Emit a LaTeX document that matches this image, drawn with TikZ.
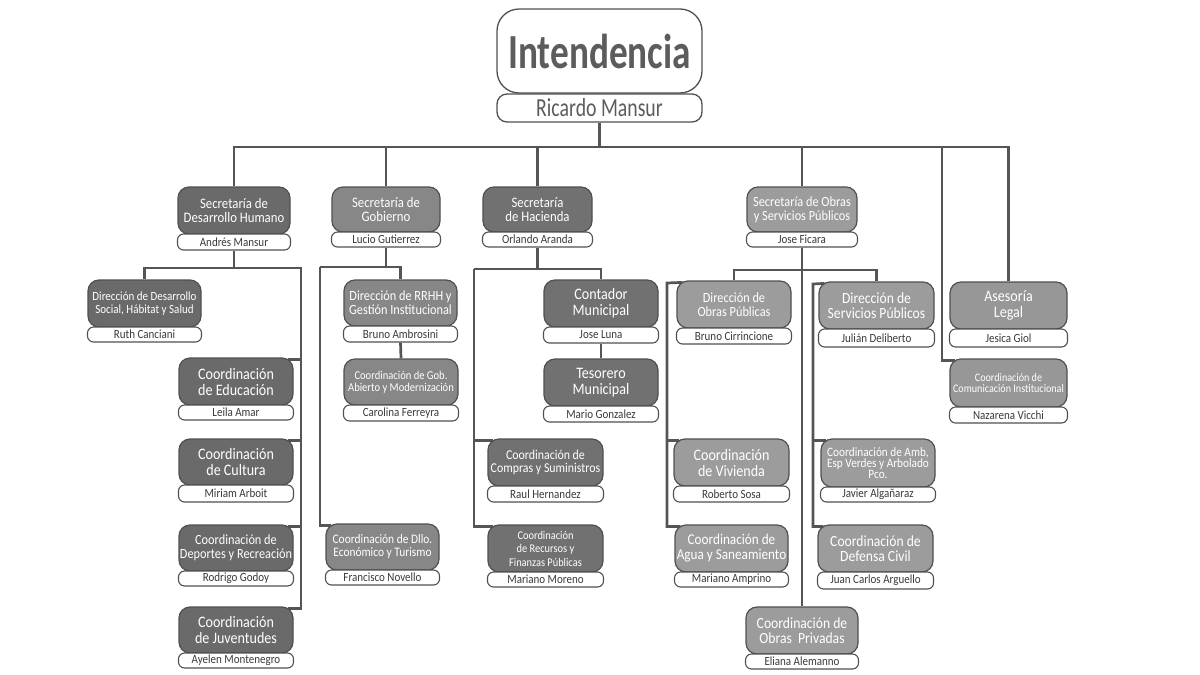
\documentclass[tikz,border=0pt]{standalone}
\usepackage{fontspec}
\setmainfont{Carlito}[FakeStretch=0.88]
\newfontfamily\titlefont{Carlito}[FakeStretch=0.76]
\usetikzlibrary{calc,backgrounds}
\definecolor{cdh}{HTML}{6A6A6A}
\definecolor{cgob}{HTML}{878787}
\definecolor{chac}{HTML}{717171}
\definecolor{cob}{HTML}{9C9C9C}
\definecolor{cas}{HTML}{979797}
\definecolor{cborder}{HTML}{505050}
\definecolor{cline}{HTML}{555555}
\definecolor{ctext}{HTML}{3A3A3A}
\definecolor{ctitle}{HTML}{5C5C5C}
\tikzset{
  gbox/.style={draw=cborder, line width=1.2pt, rounded corners=11pt, inner sep=0pt, align=center, text=white},
  pill/.style={draw=cborder, line width=1.1pt, fill=white, rounded corners=6pt, inner sep=0pt, text=ctext, font=\fontsize{12.5}{12.5}\selectfont},
  conn/.style={draw=cline, line width=2.7pt},
  fs/.style={font=\fontsize{#1}{#1}\selectfont},
  fsl/.style 2 args={font=\fontsize{#1}{#2}\selectfont},
}
% #1 id, #2 x1, #3 x2, #4 y1, #5 y2, #6 name bottom, #7 style, #8 person, #9 text
\newcommand\ob[9]{%
  \node[gbox,#7,minimum width={(#3-#2)*1pt},minimum height={(#5-#4)*1pt}] (#1) at ({(#2+#3)/2},{(#4+#5)/2}) {#9};
  \node[pill,minimum width={(#3-#2+1)*1pt},minimum height={(#6-#5)*1pt}] (#1n) at ({(#2+#3)/2},{(#5+#6)/2}) {#8};
}
\begin{document}
\begin{tikzpicture}[x=1pt,y=-1pt]
\useasboundingbox (0,0) rectangle (1200,675);
% title
\node[draw=cborder, line width=1.3pt, rounded corners=22pt, fill=white, inner sep=0pt,
      minimum width=205pt, minimum height=84pt, text=ctitle,
      font=\titlefont\bfseries\fontsize{49}{49}\selectfont] (intend) at (599.5,51) {Intendencia};
\node[draw=cborder, line width=1.3pt, rounded corners=10pt, fill=white, inner sep=0pt,
      minimum width=205pt, minimum height=28pt, text=ctitle,
      font=\titlefont\fontsize{26}{26}\selectfont] (ricardo) at (599.5,108) {Ricardo Mansur};

% Desarrollo Humano
\ob{secDH}{178}{290}{187}{234}{250}{fill=cdh,fs=14.5}{Andrés Mansur}{Secretaría de\\Desarrollo Humano}
\ob{dirDS}{88}{201}{280}{327}{342}{fill=cdh,fs=12.5}{Ruth Canciani}{Dirección de Desarrollo\\Social, Hábitat y Salud}
\ob{educ}{179}{293}{358}{405}{420}{fill=cdh,fs=16}{Leila Amar}{Coordinación\\de Educación}
\ob{cult}{179}{293}{439}{485}{502}{fill=cdh,fs=16}{Miriam Arboit}{Coordinación\\de Cultura}
\ob{dep}{179}{293}{525}{571}{586}{fill=cdh,fs=14}{Rodrigo Godoy}{Coordinación de\\Deportes y Recreación}
\ob{juv}{179}{293}{607}{653}{668}{fill=cdh,fs=16}{Ayelen Montenegro}{Coordinación\\de Juventudes}

% Gobierno
\ob{secGob}{332}{440}{187}{232}{247}{fill=cgob,fs=14.5}{Lucio Gutierrez}{Secretaría de\\Gobierno}
\ob{rrhh}{344}{457}{280}{326}{342}{fill=cgob,fs=14}{Bruno Ambrosini}{Dirección de RRHH y\\Gestión Institucional}
\ob{gobab}{344}{458}{359}{405}{421}{fill=cgob,fs=12}{Carolina Ferreyra}{Coordinación de Gob.\\Abierto y Modernización}
\ob{dllo}{326}{439}{524}{570}{585}{fill=cgob,fs=13}{Francisco Novello}{Coordinación de Dllo.\\Económico y Turismo}

% Hacienda
\ob{secHac}{483}{592}{187}{232}{247}{fill=chac,fs=14.5}{Orlando Aranda}{Secretaría\\de Hacienda}
\ob{contador}{544}{658}{280}{327}{343}{fill=chac,fs=16}{Jose Luna}{Contador\\Municipal}
\ob{tesorero}{544}{658}{359}{406}{422}{fill=chac,fs=16}{Mario Gonzalez}{Tesorero\\Municipal}
\ob{compras}{488}{603}{439}{486}{502}{fill=chac,fs=13.5}{Raul Hernandez}{Coordinación de\\Compras y Suministros}
\ob{recursos}{488}{603}{525}{572}{587}{fill=chac,fsl={11.8}{13.5}}{Mariano Moreno}{Coordinación\\de Recursos y\\Finanzas Públicas}

% Obras
\ob{secObras}{747}{857}{187}{232}{247}{fill=cob,fs=14}{Jose Ficara}{Secretaría de Obras\\y Servicios Públicos}
\ob{obrasPub}{677}{791}{281}{328}{344}{fill=cob,fs=14}{Bruno Cirrincione}{Dirección de\\Obras Públicas}
\ob{vivienda}{674}{789}{439}{486}{502}{fill=cob,fs=16}{Roberto Sosa}{Coordinación\\de Vivienda}
\ob{agua}{675}{788}{525}{572}{587}{fill=cob,fs=15}{Mariano Amprino}{Coordinación de\\Agua y Saneamiento}
\ob{servPub}{819}{934}{282}{329}{347}{fill=cob,fs=15.5}{Julián Deliberto}{Dirección de\\Servicios Públicos}
\ob{amb}{821}{935}{439}{487}{502}{fill=cob,fsl={12.8}{11}}{Javier Algañaraz}{Coordinación de Amb,\\Esp Verdes y Arbolado\\Pco.}
\ob{defensa}{818}{933}{525}{572}{589}{fill=cob,fs=15.5}{Juan Carlos Arguello}{Coordinación de\\Defensa Civil}
\ob{obrasPriv}{746}{858}{607}{654}{669}{fill=cob,fs=15.5}{Eliana Alemanno}{Coordinación de\\Obras~~Privadas}

% Right
\ob{asesoria}{950}{1067}{282}{329}{347}{fill=cas,fs=16}{Jesica Giol}{Asesoría\\Legal}
\ob{comunic}{950}{1067}{359}{407}{423}{fill=cas,fs=11.5}{Nazarena Vicchi}{Coordinación de\\Comunicación Institucional}

\begin{pgfonlayer}{background}
\fill[white] (0,0) rectangle (1200,675);
\coordinate (bus) at (599.5,147);
\coordinate (comJ) at (942,147);
\coordinate (dhR) at (301,268);
\coordinate (gobL) at (320,267);
\coordinate (hacL) at (474,269);
\coordinate (obJ) at (802,270);
\coordinate (opL) at (667,283);
\coordinate (spL) at (813,284);
% main bus
\draw[conn] (ricardo.south) -- (bus);
\draw[conn] (secDH.north) |- (bus) -| (asesoria.north);
\draw[conn] (secGob.north) -- (secGob.north |- bus);
\draw[conn] (secHac.north) -- (secHac.north |- bus);
\draw[conn] (secObras.north) -- (secObras.north |- bus);
\draw[conn] (comJ) |- ($(comunic.north west)+(6,2)$);
% DH
\draw[conn] (secDHn.south) -- (secDHn.south |- dhR);
\draw[conn] (dirDS.north) |- (dhR) |- ($(juv.north east)+(-6,2)$);
\draw[conn] (dhR) |- ($(educ.north east)+(-6,2)$);
\draw[conn] (dhR) |- ($(cult.north east)+(-6,2)$);
\draw[conn] (dhR) |- ($(dep.north east)+(-6,2)$);
% Gobierno
\draw[conn] (secGobn.south) -- (secGobn.south |- gobL);
\draw[conn] (gobL) -| (rrhh.north);
\draw[conn] (gobL) |- ($(dllo.north west)+(6,2)$);
\draw[conn] (rrhhn.south) -- (gobab.north);
% Hacienda
\draw[conn] (secHacn.south) -- (secHacn.south |- hacL);
\draw[conn] (hacL) -| (contador.north);
\draw[conn] (contadorn.south) -- (tesorero.north);
\draw[conn] (hacL) |- ($(recursos.north west)+(6,2)$);
\draw[conn] (hacL) |- ($(compras.north west)+(6,2)$);
% Obras
\draw[conn] (secObrasn.south) -- (obrasPriv.north);
\draw[conn] (obrasPub.north) |- (obJ) -| (servPub.north);
\draw[conn] ($(obrasPub.north west)+(6,2)$) -- (opL) |- ($(agua.north west)+(6,2)$);
\draw[conn] (opL) |- ($(vivienda.north west)+(6,2)$);
\draw[conn] ($(servPub.north west)+(6,2)$) -- (spL) |- ($(defensa.north west)+(6,2)$);
\draw[conn] (spL) |- ($(amb.north west)+(6,2)$);
\end{pgfonlayer}
\end{tikzpicture}
\end{document}
